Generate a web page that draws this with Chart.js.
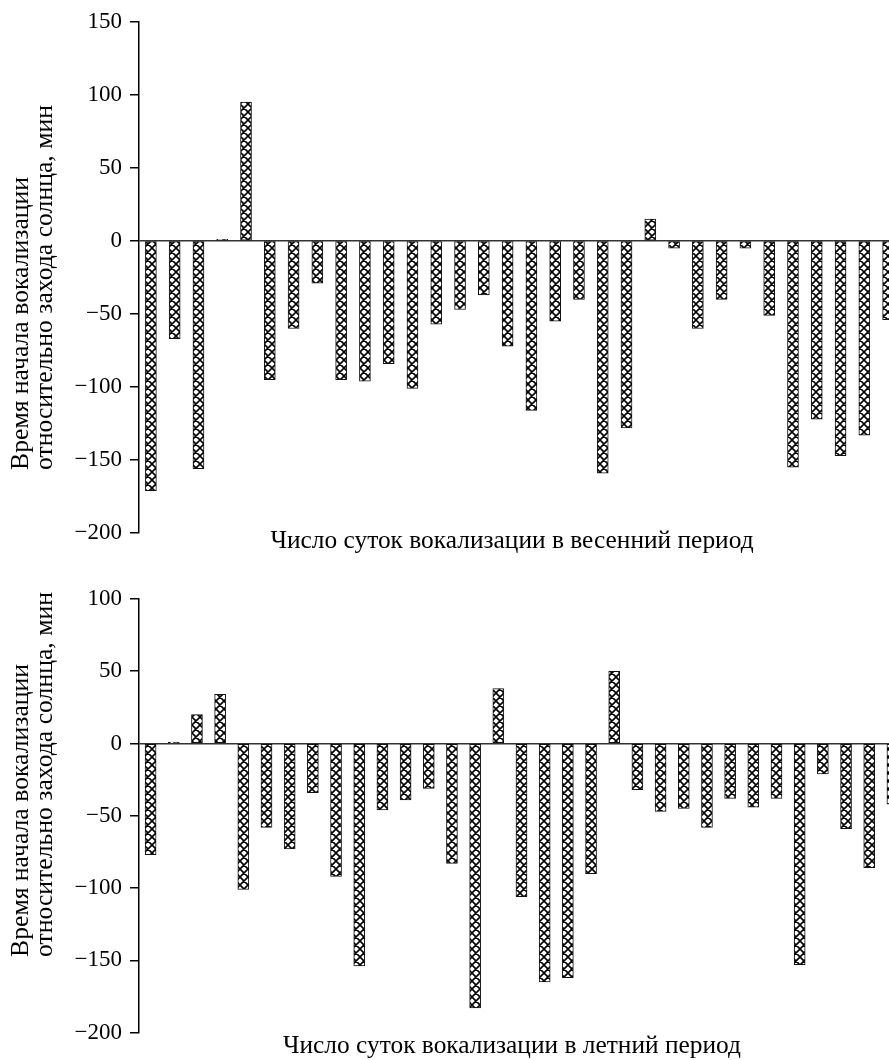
<!DOCTYPE html>
<html>
<head>
<meta charset="utf-8">
<script src="https://cdn.jsdelivr.net/npm/chart.js"></script>
<style>
  html, body { margin: 0; padding: 0; background: #fff; overflow: hidden; }
  .box { position: absolute; left: 0; }
</style>
</head>
<body>
<div class="box" style="top:0;width:900px;height:565px"><canvas id="spring-chart"></canvas></div>
<div class="box" style="top:565px;width:904px;height:495px"><canvas id="summer-chart"></canvas></div>
<script>
// spring period, minutes relative to sunset
const springDays = [1, 2, 3, 4, 5, 6, 7, 8, 9, 10, 11, 12, 13, 14, 15, 16,
  17, 18, 19, 20, 21, 22, 23, 24, 25, 26, 27, 28, 29, 30, 31, 32];
const springValues = [-171, -67, -156, 1, 95, -95, -60, -29, -95, -96, -84, -101, -57, -47, -37, -72,
  -116, -55, -40, -159, -128, 15, -5, -60, -40, -5, -51, -155, -122, -147, -133, -54];
const springTicks = [150, 100, 50, 0, -50, -100, -150, -200];

// summer period
const summerDays = [1, 2, 3, 4, 5, 6, 7, 8, 9, 10, 11, 12, 13, 14, 15, 16,
  17, 18, 19, 20, 21, 22, 23, 24, 25, 26, 27, 28, 29, 30, 31, 32, 33];
const summerValues = [-77, 1, 20, 34, -101, -58, -73, -34, -92, -154, -46, -39, -31, -83, -183, 38,
  -106, -165, -162, -90, 50, -32, -47, -45, -58, -38, -44, -38, -153, -21, -59, -86, -42];
const summerTicks = [100, 50, 0, -50, -100, -150, -200];

const yTitleLines = ['Время начала вокализации', 'относительно захода солнца, мин'];
const springTitle = 'Число суток вокализации в весенний период';
const summerTitle = 'Число суток вокализации в летний период';

const FONT = '"Liberation Serif", "Times New Roman", serif';

// cross hatch fill for the bars
function makeHatch() {
  const tile = document.createElement('canvas');
  tile.width = 8;
  tile.height = 8;
  const c = tile.getContext('2d');
  c.fillStyle = '#fff';
  c.fillRect(0, 0, 8, 8);
  c.strokeStyle = '#000';
  c.lineWidth = 1.6;
  c.beginPath();
  for (let k = -1; k <= 1; k++) {
    c.moveTo(k * 8, 0); c.lineTo(k * 8 + 8, 8);
    c.moveTo(k * 8, 8); c.lineTo(k * 8 + 8, 0);
  }
  c.stroke();
  return c.createPattern(tile, 'repeat');
}

// axis titles: rotated two-line y title (left aligned from a fixed start) and the x title
const axisTitlePlugin = {
  id: 'axisTitles',
  afterDraw(chart, args, opts) {
    const ctx = chart.ctx;
    ctx.save();
    ctx.fillStyle = '#000';
    ctx.textBaseline = 'middle';

    ctx.font = '25.7px ' + FONT;
    ctx.textAlign = 'left';
    yTitleLines.forEach((line, i) => {
      ctx.save();
      ctx.translate(opts.yLineX[i], opts.yStart);
      ctx.rotate(-Math.PI / 2);
      ctx.fillText(line, 0, 0);
      ctx.restore();
    });

    ctx.font = '25.4px ' + FONT;
    ctx.textAlign = 'center';
    ctx.fillText(opts.xText, opts.xCenter, opts.xY);
    ctx.restore();
  }
};

function minusLabel(v) {
  return v < 0 ? '\u2212' + Math.abs(v) : String(v);
}

function displayChart(canvasId, labels, values, ticks, xTitle, pos) {
  const canvasContext = document.getElementById(canvasId).getContext('2d');

  return new Chart(canvasContext, {
    type: 'bar',
    plugins: [axisTitlePlugin],
    data: {
      labels: labels,
      datasets: [{
        data: values,
        backgroundColor: makeHatch(),
        borderColor: '#111',
        borderWidth: 1,
        borderSkipped: false,
        barThickness: 11
      }]
    },
    options: {
      responsive: true,
      maintainAspectRatio: false,
      animation: false,
      layout: { padding: { top: pos.padTop, left: 0, right: 0, bottom: pos.padBottom } },
      plugins: {
        legend: { display: false },
        tooltip: { enabled: false },
        axisTitles: {
          yLineX: [21, 45],
          yStart: pos.yStart,
          xText: xTitle,
          xCenter: 512,
          xY: pos.xY
        }
      },
      scales: {
        x: {
          display: false
        },
        y: {
          min: Math.min(...ticks),
          max: Math.max(...ticks),
          afterBuildTicks: (scale) => {
            scale.ticks = ticks.map((v) => ({ value: v }));
          },
          afterFit: (scale) => {
            scale.width = 139;
          },
          grid: {
            drawTicks: true,
            tickLength: 9,
            tickColor: '#000',
            tickWidth: 1.5,
            lineWidth: 1.5,
            color: (c) => (c.tick && c.tick.value === 0 ? '#333' : 'rgba(0,0,0,0)')
          },
          border: { display: true, color: '#000', width: 1.5 },
          ticks: {
            color: '#000',
            padding: 8,
            font: { family: FONT, size: 23 },
            callback: (v) => minusLabel(v)
          }
        }
      }
    }
  });
}

displayChart('spring-chart', springDays, springValues, springTicks, springTitle,
  { padTop: 21, padBottom: 32, yStart: 470, xY: 541 });
displayChart('summer-chart', summerDays, summerValues, summerTicks, summerTitle,
  { padTop: 34, padBottom: 27.5, yStart: 392, xY: 481 });
</script>
</body>
</html>
